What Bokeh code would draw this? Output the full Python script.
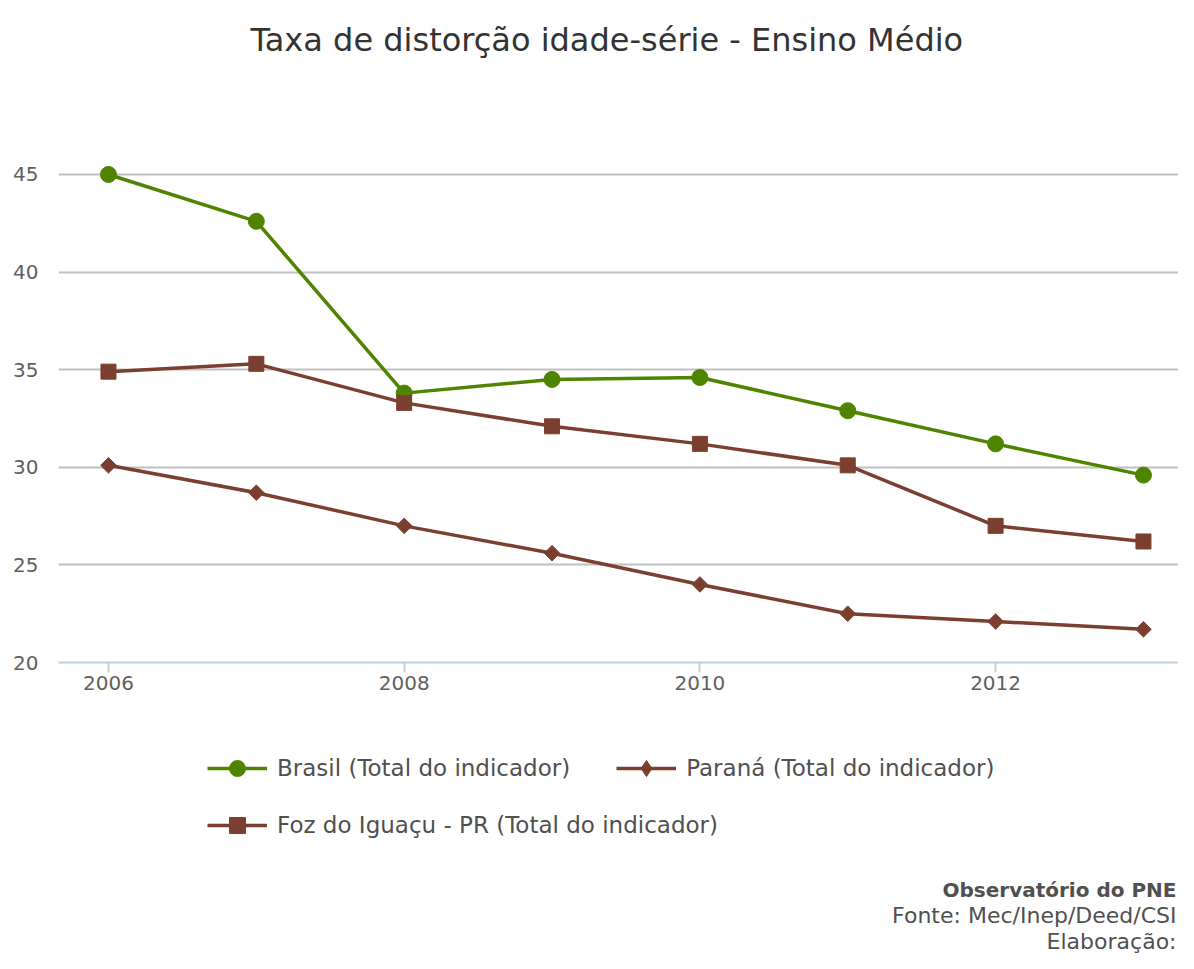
import math
from bokeh.plotting import figure
from bokeh.layouts import column
from bokeh.models import Legend, LegendItem, FixedTicker, Label
from bokeh.embed import file_html
from bokeh.resources import INLINE

years = [2006, 2007, 2008, 2009, 2010, 2011, 2012, 2013]
brasil = [45.0, 42.6, 33.8, 34.5, 34.6, 32.9, 31.2, 29.6]
parana = [30.1, 28.7, 27.0, 25.6, 24.0, 22.5, 22.1, 21.7]
foz = [34.9, 35.3, 33.3, 32.1, 31.2, 30.1, 27.0, 26.2]
y_ticks = [20, 25, 30, 35, 40, 45]
x_ticks = [2006, 2008, 2010, 2012]

title_text = "Taxa de distorção idade-série - Ensino Médio"
names = ["Brasil (Total do indicador)", "Paraná (Total do indicador)",
         "Foz do Iguaçu - PR (Total do indicador)"]
notes = ["Observatório do PNE", "Fonte: Mec/Inep/Deed/CSI", "Elaboração:"]

GREEN = "#4f8400"
BROWN = "#7b3f2f"
FONT = "DejaVu Sans"
W = 1178
LEFT = 58
LW = 3.5

p = figure(width=W, height=700, x_range=(2005.662, 2013.237), y_range=(20, 50.02),
           output_backend="svg", toolbar_location=None,
           min_border_left=LEFT, min_border_right=0, min_border_top=76, min_border_bottom=38)
p.outline_line_color = None

p.title.text = title_text
p.title.align = "left"
p.title.offset = 192
p.title.text_font = FONT
p.title.text_font_size = "32px"
p.title.text_font_style = "normal"
p.title.text_color = "#333333"
p.title.standoff = 36

# axes
p.yaxis.ticker = FixedTicker(ticks=y_ticks)
p.yaxis.axis_line_color = None
p.yaxis.major_tick_line_color = None
p.yaxis.minor_tick_line_color = None
p.yaxis.major_label_text_font = FONT
p.yaxis.major_label_text_font_size = "20px"
p.yaxis.major_label_text_color = "#606060"
p.yaxis.major_label_standoff = 14

p.xaxis.ticker = FixedTicker(ticks=x_ticks)
p.xaxis.axis_line_color = "#c0d0e0"
p.xaxis.axis_line_width = 2
p.xaxis.major_tick_line_color = "#c0d0e0"
p.xaxis.major_tick_line_width = 2
p.xaxis.major_tick_in = 0
p.xaxis.major_tick_out = 10
p.xaxis.minor_tick_line_color = None
p.xaxis.major_label_text_font = FONT
p.xaxis.major_label_text_font_size = "20px"
p.xaxis.major_label_text_color = "#606060"
p.xaxis.major_label_standoff = 3

p.xgrid.grid_line_color = None
p.ygrid.ticker = FixedTicker(ticks=y_ticks[1:])
p.ygrid.grid_line_color = "#c0c0c0"
p.ygrid.grid_line_width = 2

DIA = math.pi / 4

p.line(years, brasil, line_color=GREEN, line_width=LW)
p.scatter(years, brasil, marker="circle", size=16, fill_color=GREEN, line_color=GREEN)
p.line(years, parana, line_color=BROWN, line_width=LW)
p.scatter(years, parana, marker="square", angle=DIA, size=11, fill_color=BROWN, line_color=BROWN)
p.line(years, foz, line_color=BROWN, line_width=LW)
p.scatter(years, foz, marker="square", size=15, fill_color=BROWN, line_color=BROWN)

# lower panel: legend and notes (its x range lies well away from the years,
# so these key renderers only supply the legend swatches)
H2 = 253
q = figure(width=W, height=H2, x_range=(0, 100), y_range=(0, 100),
           output_backend="svg", toolbar_location=None,
           min_border_left=LEFT, min_border_right=0,
           min_border_top=0, min_border_bottom=0)
q.axis.visible = False
q.grid.grid_line_color = None
q.outline_line_color = None

kb = [q.line(years, brasil, line_color=GREEN, line_width=LW),
      q.scatter(years, brasil, marker="circle", fill_color=GREEN, line_color=GREEN)]
kp = [q.line(years, parana, line_color=BROWN, line_width=LW),
      q.scatter(years, parana, marker="diamond", fill_color=BROWN, line_color=BROWN)]
kf = [q.line(years, foz, line_color=BROWN, line_width=LW),
      q.scatter(years, foz, marker="square", fill_color=BROWN, line_color=BROWN)]


def make_legend(items, loc):
    lg = Legend(items=items, orientation="horizontal", location=loc)
    lg.border_line_color = None
    lg.background_fill_alpha = 0
    lg.label_text_font = FONT
    lg.label_text_font_size = "23px"
    lg.label_text_color = "#505050"
    lg.glyph_width = 60
    lg.glyph_height = 40
    lg.label_standoff = 10
    lg.spacing = 46
    lg.margin = 0
    lg.padding = 0
    return lg


leg1 = make_legend([LegendItem(label=names[0], renderers=kb),
                    LegendItem(label=names[1], renderers=kp)], (207 - LEFT, 165))
leg2 = make_legend([LegendItem(label=names[2], renderers=kf)], (207 - LEFT, 108))
q.add_layout(leg1, "center")
q.add_layout(leg2, "center")

for i, (t, yy) in enumerate(zip(notes, [64, 38, 12])):
    lab = Label(x=1176 - LEFT, y=yy, x_units="screen", y_units="screen", text=t,
                text_align="right", text_baseline="middle", text_font=FONT,
                text_font_size="20px" if i == 0 else "22px", text_color="#505050",
                text_font_style="bold" if i == 0 else "normal")
    q.add_layout(lab)

layout = column(p, q, spacing=0)
open("out.html", "w").write(file_html(layout, INLINE))
